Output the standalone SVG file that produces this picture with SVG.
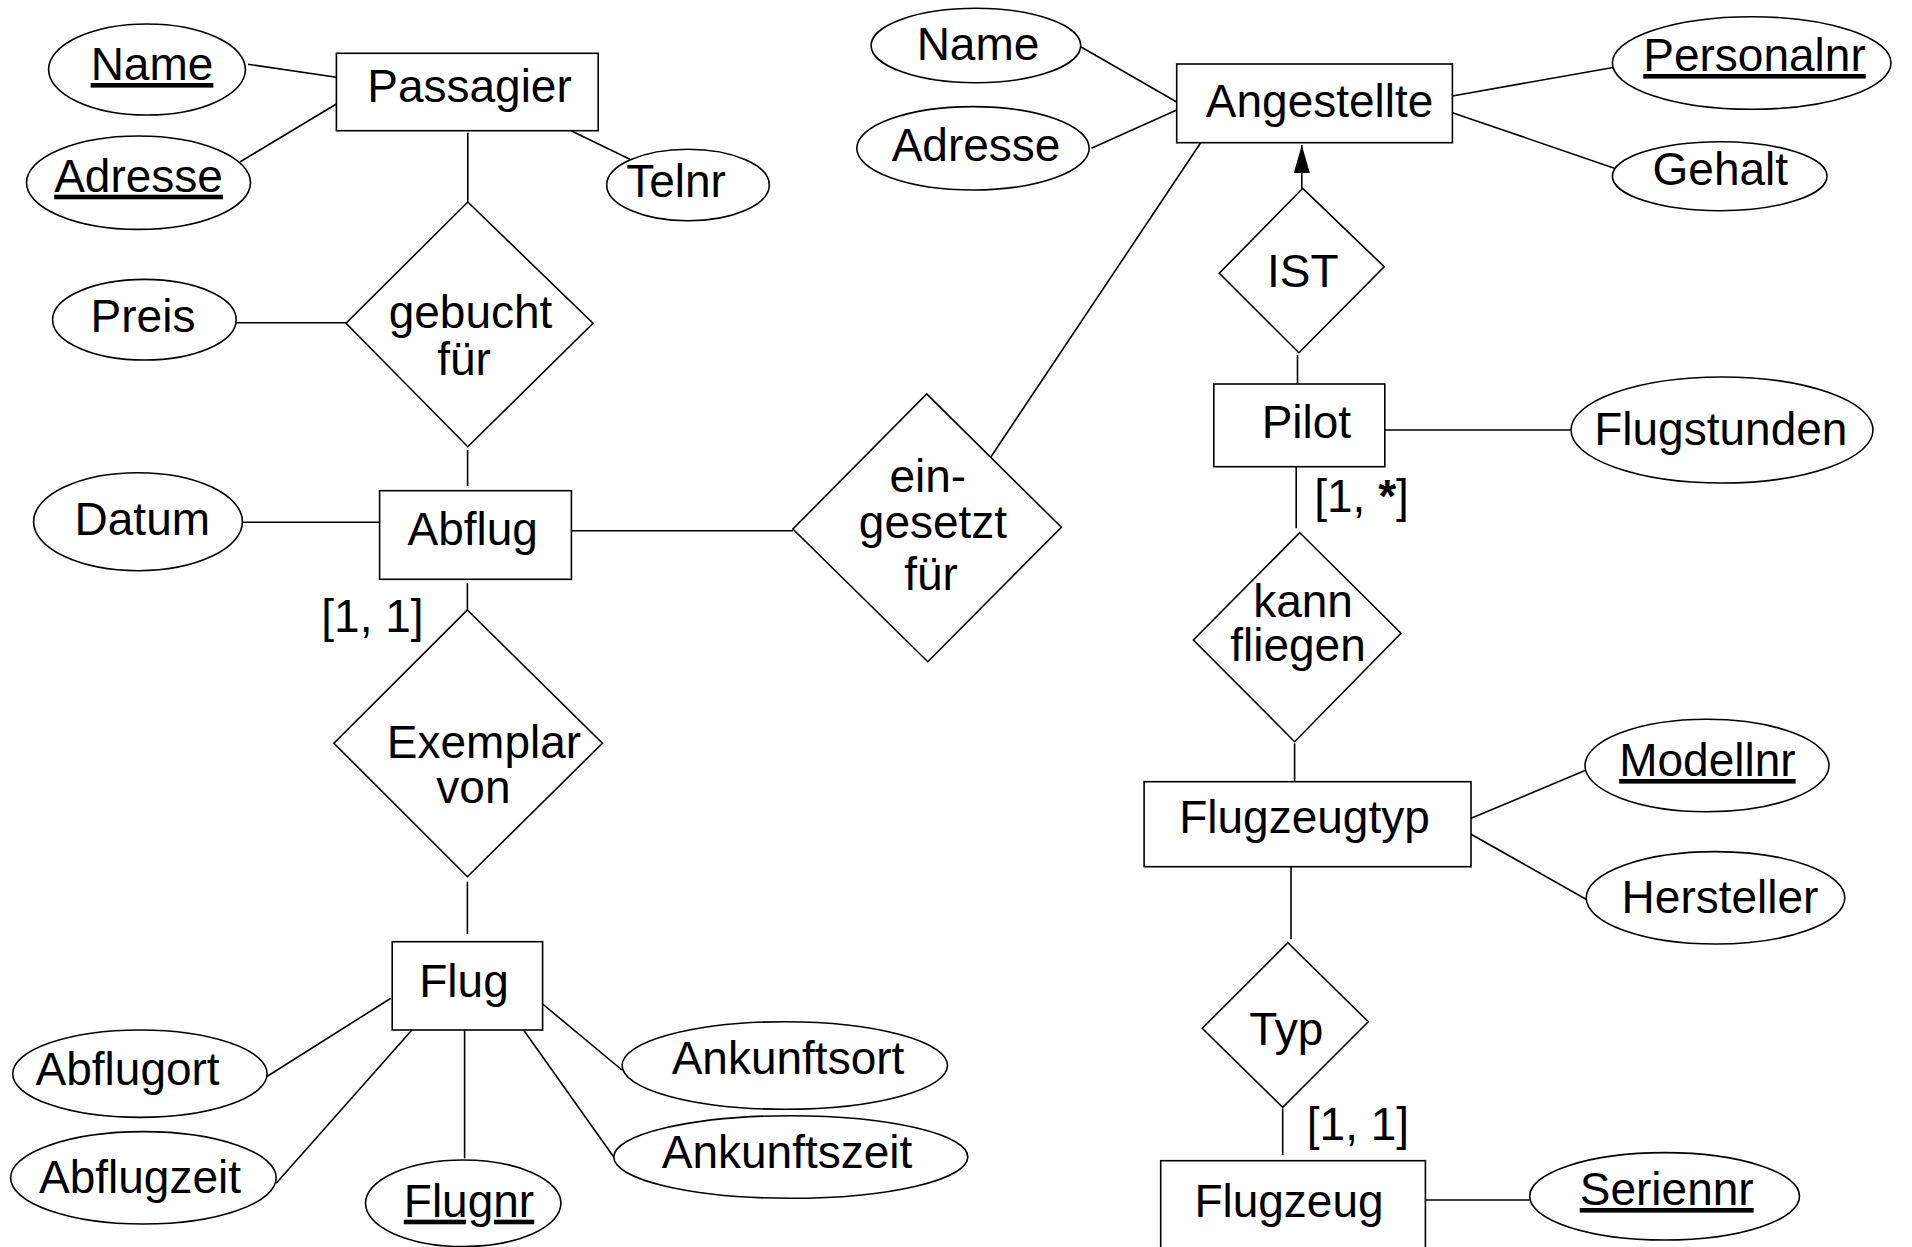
<svg xmlns="http://www.w3.org/2000/svg" width="1912" height="1247" viewBox="0 0 1912 1247">
<style>
.shape{fill:#fff;stroke:#000;stroke-width:1.6}
.conn line{stroke:#000;stroke-width:1.6}
text{font-family:"Liberation Sans",Arial,Helvetica,sans-serif;font-size:46px;fill:#000;text-anchor:middle}
.key{text-decoration:underline}
</style>
<defs>
<marker id="arrow" markerUnits="userSpaceOnUse" markerWidth="28" markerHeight="16" refX="28" refY="8" orient="auto">
<path d="M0,0 L28,8 L0,16 z" fill="#000"/>
</marker>
</defs>
<rect width="1912" height="1247" fill="#fff"/>
<g id="connectors" class="conn">
<line x1="248" y1="64.3" x2="336.4" y2="77.3"/>
<line x1="240.3" y1="161.7" x2="336.4" y2="104"/>
<line x1="571.6" y1="131" x2="629.9" y2="159.3"/>
<line x1="467.8" y1="132.7" x2="467.8" y2="202"/>
<line x1="236.2" y1="322.7" x2="346" y2="322.7"/>
<line x1="467.6" y1="450" x2="467.6" y2="486"/>
<line x1="242.5" y1="522.3" x2="379.6" y2="522.3"/>
<line x1="569.3" y1="530.7" x2="792.9" y2="530.7"/>
<line x1="467.4" y1="583" x2="467.4" y2="611"/>
<line x1="467.4" y1="881.7" x2="467.4" y2="934"/>
<line x1="390.8" y1="998.3" x2="265.7" y2="1077.3"/>
<line x1="411.9" y1="1030" x2="276.2" y2="1183.3"/>
<line x1="464.6" y1="1030" x2="464.6" y2="1158.3"/>
<line x1="542.6" y1="1004" x2="622" y2="1070"/>
<line x1="523.6" y1="1030" x2="617.1" y2="1161.7"/>
<line x1="1080.7" y1="46.7" x2="1176.7" y2="102"/>
<line x1="1091.4" y1="148.3" x2="1176.7" y2="110"/>
<line x1="1452.4" y1="96" x2="1617.3" y2="66.7"/>
<line x1="1452.4" y1="112.7" x2="1624.5" y2="171.7"/>
<line x1="1203" y1="139.3" x2="991" y2="456.7"/>
<line x1="1301.8" y1="188.5" x2="1301.8" y2="145" marker-end="url(#arrow)"/>
<line x1="1297.5" y1="355" x2="1297.5" y2="385"/>
<line x1="1385" y1="430" x2="1571" y2="430"/>
<line x1="1296.2" y1="466.7" x2="1296.2" y2="528.3"/>
<line x1="1294.6" y1="743.3" x2="1294.6" y2="781.7"/>
<line x1="1471" y1="818.3" x2="1590.4" y2="768.3"/>
<line x1="1468.4" y1="832.7" x2="1590.4" y2="901.7"/>
<line x1="1291" y1="866.7" x2="1291" y2="939.3"/>
<line x1="1282.7" y1="1108.3" x2="1282.7" y2="1155"/>
<line x1="1425.4" y1="1200" x2="1529.7" y2="1200"/>
</g>
<g id="passagier"><rect class="shape" x="336.4" y="53.3" width="261.8" height="77.4"/><text x="469.5" y="101.7">Passagier</text></g>
<g id="p-name"><ellipse class="shape" cx="147" cy="69.5" rx="98.4" ry="45.5"/><text class="key" x="152" y="80">Name</text></g>
<g id="p-adresse"><ellipse class="shape" cx="138.5" cy="182.7" rx="112" ry="46.7"/><text class="key" x="138.5" y="191.7">Adresse</text></g>
<g id="p-telnr"><ellipse class="shape" cx="688" cy="185" rx="81.3" ry="35.8"/><text x="676" y="196.7">Telnr</text></g>
<g id="gebucht"><polygon class="shape" points="467.8,202 593,323.3 467.8,446.7 346,323.3"/><text x="470.5" y="328">gebucht</text><text x="464" y="375">für</text></g>
<g id="preis"><ellipse class="shape" cx="144.4" cy="319.7" rx="91.8" ry="40.3"/><text x="143" y="331.7">Preis</text></g>
<g id="abflug"><rect class="shape" x="379.6" y="490.7" width="191.8" height="88.6"/><text x="472.7" y="545">Abflug</text></g>
<g id="datum"><ellipse class="shape" cx="138" cy="521.7" rx="104.4" ry="49"/><text x="142.3" y="535">Datum</text></g>
<g id="eingesetzt"><polygon class="shape" points="926.7,393.9 1061.4,527.3 927.8,661.7 792.9,529"/><text x="927.8" y="491.7">ein-</text><text x="933" y="538.3">gesetzt</text><text x="931" y="590">für</text></g>
<g id="exemplar"><polygon class="shape" points="467.4,610 602.4,743.3 467.4,876.7 333.9,743.3"/><text x="484" y="758.3">Exemplar</text><text x="473.4" y="803.3">von</text></g>
<g id="flug"><rect class="shape" x="392.2" y="941.7" width="150.4" height="88.3"/><text x="464" y="996.7">Flug</text></g>
<g id="abflugort"><ellipse class="shape" cx="139.9" cy="1073.7" rx="127.2" ry="43.7"/><text x="127.6" y="1085">Abflugort</text></g>
<g id="abflugzeit"><ellipse class="shape" cx="143.4" cy="1177.8" rx="132.8" ry="46.2"/><text x="140" y="1192.7">Abflugzeit</text></g>
<g id="flugnr"><ellipse class="shape" cx="463.2" cy="1203.3" rx="97.7" ry="43.3"/><text class="key" x="469" y="1216.7">Flugnr</text></g>
<g id="ankunftsort"><ellipse class="shape" cx="784.8" cy="1065.5" rx="162.7" ry="43.8"/><text x="788" y="1074">Ankunftsort</text></g>
<g id="ankunftszeit"><ellipse class="shape" cx="790.8" cy="1157" rx="177" ry="41.3"/><text x="787" y="1168.3">Ankunftszeit</text></g>
<g id="angestellte"><rect class="shape" x="1176.7" y="64" width="275.7" height="78.7"/><text x="1319.6" y="116.7">Angestellte</text></g>
<g id="a-name"><ellipse class="shape" cx="975.9" cy="45.5" rx="104.8" ry="37.2"/><text x="978" y="60">Name</text></g>
<g id="a-adresse"><ellipse class="shape" cx="973" cy="148.3" rx="116.2" ry="41.7"/><text x="976" y="161">Adresse</text></g>
<g id="personalnr"><ellipse class="shape" cx="1751.7" cy="63" rx="139.3" ry="46.3"/><text class="key" x="1754.5" y="71">Personalnr</text></g>
<g id="gehalt"><ellipse class="shape" cx="1719.7" cy="176.2" rx="107.3" ry="34.5"/><text x="1720.3" y="185">Gehalt</text></g>
<g id="ist"><polygon class="shape" points="1302.7,188.3 1384.2,266.7 1298.9,352.7 1219.3,273.3"/><text x="1302.8" y="286.7">IST</text></g>
<g id="pilot"><rect class="shape" x="1213.8" y="384" width="171" height="82.7"/><text x="1306.4" y="438.3">Pilot</text></g>
<g id="flugstunden"><ellipse class="shape" cx="1722" cy="430" rx="151" ry="53"/><text x="1720.8" y="445">Flugstunden</text></g>
<g id="kannfliegen"><polygon class="shape" points="1299.8,532.7 1401,633.3 1294.6,741.7 1193.4,640"/><text x="1303" y="616.7">kann</text><text x="1298" y="660.5">fliegen</text></g>
<g id="flugzeugtyp"><rect class="shape" x="1144.1" y="781.7" width="326.9" height="85"/><text x="1304.5" y="832.7">Flugzeugtyp</text></g>
<g id="modellnr"><ellipse class="shape" cx="1707" cy="765.5" rx="122" ry="46.2"/><text class="key" x="1707.4" y="776">Modellnr</text></g>
<g id="hersteller"><ellipse class="shape" cx="1715.5" cy="897.8" rx="129.3" ry="46.2"/><text x="1720" y="913.3">Hersteller</text></g>
<g id="typ"><polygon class="shape" points="1287.9,942.7 1368.3,1021.7 1282.7,1107.3 1202.2,1028.3"/><text x="1286.3" y="1045">Typ</text></g>
<g id="flugzeug"><rect class="shape" x="1160.7" y="1160.7" width="264.7" height="100"/><text x="1289" y="1216.7">Flugzeug</text></g>
<g id="seriennr"><ellipse class="shape" cx="1664.6" cy="1196.3" rx="134.9" ry="43.7"/><text class="key" x="1666.7" y="1205">Seriennr</text></g>
<g id="labels">
<text x="372.5" y="632">[1, 1]</text>
<text x="1361.5" y="512">[1, <tspan font-weight="bold">*</tspan>]</text>
<text x="1358" y="1140">[1, 1]</text>
</g>
</svg>
